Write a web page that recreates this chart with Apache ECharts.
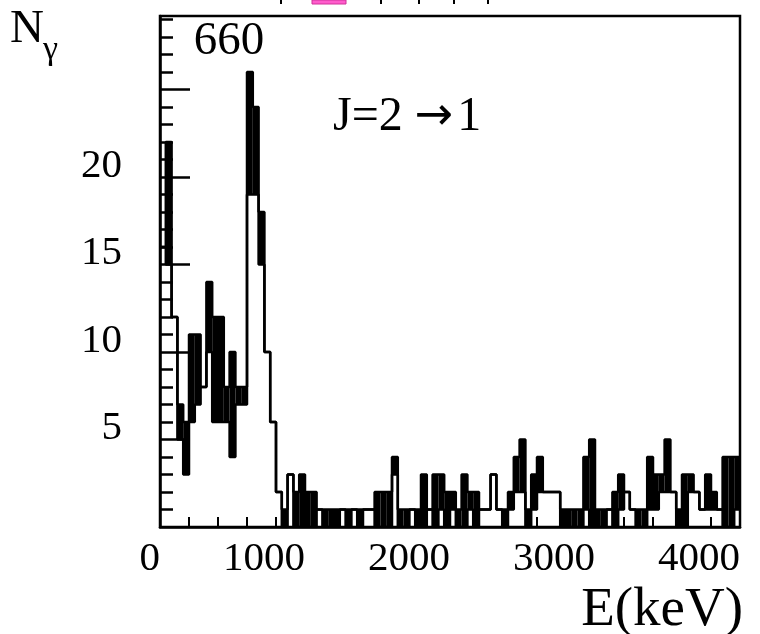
<!DOCTYPE html>
<html>
<head>
<meta charset="utf-8">
<script src="https://cdn.jsdelivr.net/npm/echarts@6/dist/echarts.min.js"></script>
<style>
  html, body { margin: 0; padding: 0; background: #fff; }
  #chart { width: 760px; height: 634px; }
</style>
</head>
<body>
<div id="chart"></div>
<script>
// Gamma spectrum, 40 keV bins from 0 to 4000 keV.
// Two spectra are drawn as step histograms; the band between them is filled black.
const binWidth = 40;
const energyMax = 4000;
const energyTicks = [0, 1000, 2000, 3000, 4000];
const countLabels = [5, 10, 15, 20];
const countMajorTicks = [5, 10, 15, 20, 25];

const countsA = [
  16, 22, 12, 7, 6, 11, 11, 8, 14, 12,
  12, 8, 10, 8, 8, 26, 24, 18, 10, 6,
  2, 1, 3, 2, 3, 2, 2, 1, 1, 1,
  1, 1, 1, 1, 1, 1, 1, 2, 2, 2,
  4, 1, 1, 1, 1, 3, 1, 3, 3, 2,
  2, 1, 3, 2, 2, 1, 1, 3, 1, 1,
  2, 4, 5, 1, 3, 4, 2, 2, 2, 1,
  1, 1, 1, 4, 5, 1, 1, 1, 2, 3,
  2, 1, 1, 1, 4, 3, 3, 5, 2, 1,
  3, 3, 2, 1, 3, 2, 1, 4, 4, 4
];

const countsB = [
  16, 15, 12, 5, 3, 6, 7, 8, 10, 6,
  6, 6, 4, 7, 7, 19, 19, 15, 10, 6,
  2, 0, 3, 0, 0, 0, 0, 1, 0, 0,
  0, 1, 0, 1, 0, 1, 1, 0, 0, 0,
  3, 0, 0, 1, 0, 0, 1, 0, 1, 0,
  1, 0, 0, 1, 0, 1, 1, 3, 1, 0,
  1, 2, 2, 0, 1, 2, 2, 2, 2, 0,
  0, 0, 0, 1, 0, 0, 0, 1, 0, 1,
  2, 1, 0, 0, 1, 1, 2, 2, 2, 0,
  0, 2, 2, 1, 1, 1, 1, 0, 0, 1
];

const minorCountTicks = [];
for (let v = 1; v < 30; v++) if (v % 5 !== 0) minorCountTicks.push(v);

const bandData = countsA.map((a, i) => {
  const b = countsB[i];
  return [i * binWidth, (i + 1) * binWidth, Math.min(a, b), Math.max(a, b)];
});
const stepData = arr => arr.map((v, i) => [i * binWidth, v]).concat([[energyMax, arr[arr.length - 1]]]);

const serif = 'Liberation Serif, Times New Roman, serif';
const chart = echarts.init(document.getElementById('chart'), null, { renderer: 'canvas' });

chart.setOption({
  animation: false,
  backgroundColor: '#fff',
  grid: {
    left: 160, right: 20, top: 16, bottom: 107,
    show: true, borderColor: '#000', borderWidth: 2.5, backgroundColor: 'transparent'
  },
  xAxis: {
    type: 'value', min: 0, max: energyMax, interval: 1000,
    axisLine: { show: true, lineStyle: { color: '#000', width: 2.5 } },
    axisTick: { show: true, inside: true, length: 14, lineStyle: { color: '#000', width: 2 } },
    minorTick: { show: true, splitNumber: 5, length: 10, lineStyle: { color: '#000', width: 2 } },
    splitLine: { show: false },
    axisLabel: {
      customValues: energyTicks,
      formatter: v => String(v),
      align: 'right', margin: 12,
      fontFamily: serif, fontSize: 41, color: '#000'
    }
  },
  yAxis: [
    {
      type: 'value', min: 0, max: 29.2,
      axisLine: { show: true, lineStyle: { color: '#000', width: 2.5 } },
      axisTick: { show: true, inside: true, length: 30, customValues: countMajorTicks, lineStyle: { color: '#000', width: 2.5 } },
      splitLine: { show: false },
      axisLabel: {
        customValues: countLabels,
        // a blank second line lifts each number a little above its tick
        formatter: v => String(v) + '\n{gap|}',
        rich: { gap: { height: 22, lineHeight: 22, fontSize: 10 } },
        margin: 38, verticalAlign: 'middle',
        fontFamily: serif, fontSize: 41, color: '#000'
      }
    },
    {
      type: 'value', min: 0, max: 29.2, position: 'left',
      axisLine: { show: false },
      axisTick: { show: true, inside: true, length: 13, customValues: minorCountTicks, lineStyle: { color: '#000', width: 2.5 } },
      splitLine: { show: false },
      axisLabel: { show: false }
    }
  ],
  series: [
    {
      type: 'custom',
      name: 'difference',
      data: bandData,
      encode: { x: [0, 1], y: [2, 3] },
      renderItem: (params, api) => {
        const lo = api.value(2), hi = api.value(3);
        if (hi <= lo) return null;
        const p0 = api.coord([api.value(0), hi]);
        const p1 = api.coord([api.value(1), lo]);
        return {
          type: 'rect',
          shape: { x: p0[0], y: p0[1], width: p1[0] - p0[0], height: p1[1] - p0[1] },
          style: { fill: '#000' }
        };
      },
      z: 2
    },
    {
      type: 'line', name: 'A', step: 'end', showSymbol: false, symbol: 'none',
      data: stepData(countsA),
      lineStyle: { color: '#000', width: 2.5 }, z: 3
    },
    {
      type: 'line', name: 'B', step: 'end', showSymbol: false, symbol: 'none',
      data: stepData(countsB),
      lineStyle: { color: '#000', width: 2.5 }, z: 3
    }
  ],
  graphic: [
    { type: 'text', x: 27, y: 30, style: { text: 'N', fontFamily: serif, fontSize: 47, fill: '#000', align: 'center', verticalAlign: 'middle' } },
    { type: 'text', x: 43, y: 50, style: { text: 'γ', fontFamily: serif, fontSize: 34, fill: '#000', align: 'left', verticalAlign: 'middle' } },
    { type: 'text', x: 229, y: 42, style: { text: '660', fontFamily: serif, fontSize: 47, fill: '#000', align: 'center', verticalAlign: 'middle' } },
    {
      type: 'text', x: 333, y: 117,
      style: {
        text: '{t|J=2 }{a|→}{t|1}',
        rich: {
          t: { fontFamily: serif, fontSize: 48, fill: '#000' },
          a: { fontFamily: 'DejaVu Sans', fontSize: 46, fill: '#000', padding: [0, 4, 0, 0] }
        },
        align: 'left', verticalAlign: 'middle'
      }
    },
    { type: 'text', x: 743, y: 611, style: { text: 'E(keV)', fontFamily: serif, fontSize: 55, fill: '#000', align: 'right', verticalAlign: 'middle' } },
    // fragment of the panel above, clipped at the top edge
    { type: 'rect', shape: { x: 312, y: 0, width: 34, height: 4 }, style: { fill: '#ff5ccc', stroke: '#d0309a', lineWidth: 1 } },
    { type: 'rect', shape: { x: 280, y: 0, width: 2, height: 4 }, style: { fill: '#000' } },
    { type: 'rect', shape: { x: 380, y: 0, width: 2, height: 4 }, style: { fill: '#000' } },
    { type: 'rect', shape: { x: 418, y: 0, width: 2, height: 4 }, style: { fill: '#000' } },
    { type: 'rect', shape: { x: 453, y: 0, width: 2, height: 4 }, style: { fill: '#000' } },
    { type: 'rect', shape: { x: 487, y: 0, width: 2, height: 4 }, style: { fill: '#000' } }
  ]
});
</script>
</body>
</html>
